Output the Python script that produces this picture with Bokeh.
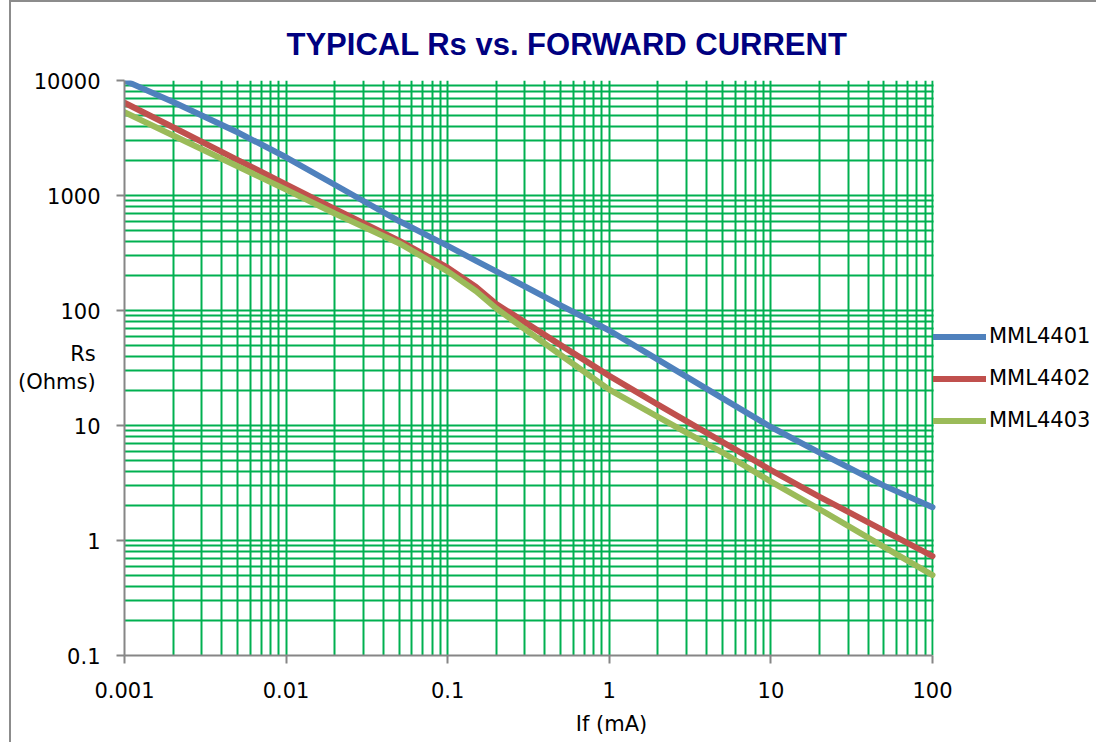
from bokeh.plotting import figure
from bokeh.models import (FixedTicker, CustomJSTickFormatter, Legend, LegendItem, Range1d, Title)
from bokeh.embed import file_html
from bokeh.resources import INLINE

# ---- data ----
current_ma = [0.001, 0.002, 0.005, 0.01, 0.02, 0.05, 0.07, 0.1, 0.15, 0.2, 0.5, 1, 2, 5, 10, 20, 50, 100]
rs_mml4401 = [10000, 6500, 3550, 2150, 1240, 600, 471, 365, 270, 219, 111, 67, 37.4, 17.3, 9.7, 5.8, 3.0, 1.95]
rs_mml4402 = [6400, 3920, 2040, 1250, 766, 405, 312, 236, 160, 114, 50, 27, 15.2, 7.2, 4.1, 2.4, 1.22, 0.73]
rs_mml4403 = [5300, 3320, 1795, 1125, 697, 385, 293, 219, 147, 104, 41, 20.5, 11.9, 5.85, 3.25, 1.87, 0.88, 0.50]
series_names = ["MML4401", "MML4402", "MML4403"]
series_colors = ["#4F81BD", "#C0504D", "#9BBB59"]

x_ticks = [0.001, 0.01, 0.1, 1, 10, 100]
y_ticks = [0.1, 1, 10, 100, 1000, 10000]

title_text = "TYPICAL Rs vs. FORWARD CURRENT"
x_label = "If (mA)"
y_label = "Rs\n(Ohms)"

FONT = "DejaVu Sans"
FS = "21px"

# ---- layout constants (pixels) ----
W, H = 1087, 742
OX, OY = 11, 2                      # canvas origin on the page (margin + border)
FL, FT, FB = 124 - OX, 80 - OY, 655 - OY
PLOT_W = 932 - 124                  # width of the 0.001..100 data area
DEC = PLOT_W / 5.0                  # pixels per decade
x_lo, x_hi = x_ticks[0], x_ticks[-1]
x_end = x_lo * 10 ** ((W - FL) / DEC)   # frame runs to the right edge (legend area)

p = figure(width=W, height=H, x_axis_type="log", y_axis_type="log",
           x_range=Range1d(x_lo, x_end), y_range=Range1d(y_ticks[0], y_ticks[-1]),
           output_backend="svg", toolbar_location=None, title=None,
           min_border_left=FL, min_border_right=0,
           min_border_top=FT, min_border_bottom=H - FB)
p.outline_line_color = None
p.background_fill_color = "white"
p.border_fill_color = "white"

p.title = Title(text=title_text, align="left", offset=162, vertical_align="bottom",
                standoff=37, text_font="Liberation Sans", text_font_style="bold",
                text_font_size="31px", text_color="#000080")

def minors(ticks):
    return [t * m for t in ticks[:-1] for m in range(2, 10)]

p.xaxis.ticker = FixedTicker(ticks=x_ticks, minor_ticks=minors(x_ticks))
p.yaxis.ticker = FixedTicker(ticks=y_ticks, minor_ticks=minors(y_ticks))
fmt = CustomJSTickFormatter(code="return String(parseFloat(tick.toPrecision(6)));")
p.xaxis.formatter = fmt
p.yaxis.formatter = fmt
p.xaxis.bounds = (x_lo, x_hi)

for g in (p.xgrid, p.ygrid):
    g.grid_line_color = "#00B050"
    g.grid_line_width = 2
    g.minor_grid_line_color = "#00B050"
    g.minor_grid_line_width = 2

for ax in (p.xaxis, p.yaxis):
    ax.axis_line_color = "#868686"
    ax.axis_line_width = 2
    ax.major_tick_line_color = "#868686"
    ax.major_tick_line_width = 2
    ax.major_tick_out = 8
    ax.major_tick_in = 0
    ax.minor_tick_line_color = None
    ax.major_label_text_font = FONT
    ax.major_label_text_font_size = FS
    ax.major_label_text_color = "#000000"
    ax.axis_label_text_font = FONT
    ax.axis_label_text_font_size = FS
    ax.axis_label_text_font_style = "normal"
    ax.axis_label_text_color = "#000000"
p.xaxis.major_label_standoff = 18
p.yaxis.major_label_standoff = 16
p.xaxis.axis_label = x_label
p.xaxis.axis_label_standoff = 11
p.yaxis.axis_label = y_label
p.yaxis.axis_label_orientation = "horizontal"
p.yaxis.axis_label_text_align = "center"
p.yaxis.axis_label_standoff = -65

# white panel that hides the grid to the right of the data area (legend area)
mask_left = x_hi * 10 ** (1.2 / DEC)
p.quad(left=[mask_left], right=[x_end], bottom=[y_ticks[0]], top=[y_ticks[-1]],
       fill_color="white", line_color=None)

renderers = []
for ys, c in zip([rs_mml4401, rs_mml4402, rs_mml4403], series_colors):
    r = p.line(current_ma, ys, line_color=c, line_width=6,
               line_cap="round", line_join="round")
    renderers.append(r)

legend = Legend(items=[LegendItem(label=n, renderers=[r]) for n, r in zip(series_names, renderers)],
                location=(930 + 3 - 124, 220.5), orientation="vertical",
                glyph_width=53, glyph_height=29, label_height=29,
                label_standoff=3, spacing=13, padding=0, margin=0,
                border_line_color=None, background_fill_alpha=0,
                label_text_font=FONT, label_text_font_size=FS,
                label_text_color="#000000")
p.add_layout(legend)

p.styles = {"margin-left": "9px", "border-left": "2px solid #8c8c8c",
            "border-top": "2px solid #8c8c8c"}

open("out.html", "w").write(file_html(p, INLINE))
